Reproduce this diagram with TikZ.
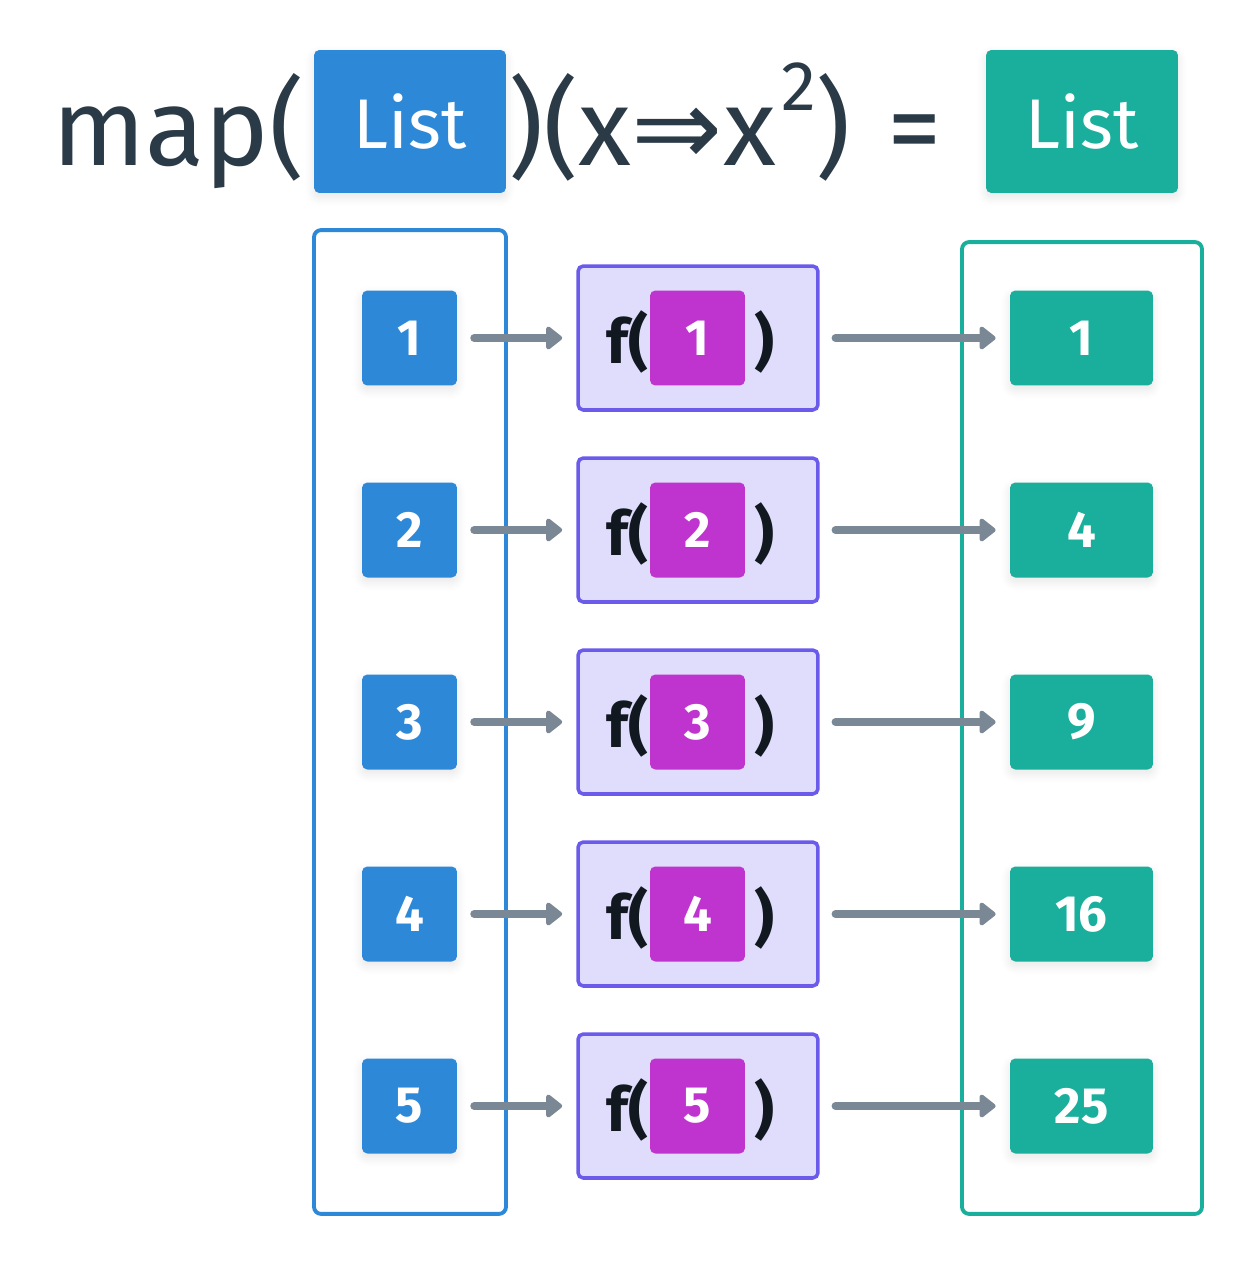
\documentclass[tikz,border=0pt]{standalone}
\usepackage{fontspec}
\setmainfont{Fira Sans}
\newfontfamily\arrowfont{DejaVu Sans}
\usetikzlibrary{positioning}
\usetikzlibrary{arrows.meta}
\usetikzlibrary{shadows.blur}

\definecolor{listblue}{HTML}{2E88D8}
\definecolor{listteal}{HTML}{1AAF9C}
\definecolor{argmagenta}{HTML}{BF34CF}
\definecolor{calllilac}{HTML}{E0DCFC}
\definecolor{callborder}{HTML}{6A5BEA}
\definecolor{linkgray}{HTML}{7A8794}
\definecolor{titleink}{HTML}{2B3A47}
\definecolor{callink}{HTML}{111820}

\begin{document}
\begin{tikzpicture}
	[x=0.02cm,y=-0.02cm,
	softshadow/.style={blur shadow={shadow blur steps=10,shadow blur radius=5pt,shadow xshift=0pt,shadow yshift=-2.5pt,shadow opacity=10}},
	title/.style={inner sep=0pt,text=titleink,font=\fontsize{62}{62}\selectfont},
	listhead/.style={rounded corners=3pt,minimum width=3.84cm,minimum height=2.86cm,text=white,font=\fontsize{40}{40}\selectfont,softshadow},
	column/.style={draw,line width=2.2pt,rounded corners=4pt},
	innum/.style={fill=listblue,rounded corners=3pt,minimum size=1.9cm,text=white,font=\fontsize{29}{29}\selectfont\bfseries,softshadow},
	outnum/.style={fill=listteal,rounded corners=3pt,minimum width=2.86cm,minimum height=1.9cm,text=white,font=\fontsize{29}{29}\selectfont\bfseries,softshadow},
	call/.style={draw=callborder,fill=calllilac,line width=2pt,rounded corners=3pt,minimum width=4.8cm,minimum height=2.88cm},
	arg/.style={fill=argmagenta,rounded corners=3pt,minimum size=1.9cm,text=white,font=\fontsize{29}{29}\selectfont\bfseries},
	paren/.style={inner sep=0pt,text=callink,font=\fontsize{35}{35}\selectfont\bfseries},
	link/.style={draw=linkgray,line width=4.5pt,line cap=round,-{Triangle[length=10pt,width=15pt,round]},shorten >=8pt}]

	\useasboundingbox (0,0) rectangle (1256,1262);

	% Draw the title line
	\draw node at (52,165) [title,anchor=base west](mapword){map(}
		node at (410,121.5) [listhead,fill=listblue](inhead){List}
		node at (508,165) [title,anchor=base west](lambda){)(x{\arrowfont ⇒}x\kern3pt\raisebox{31pt}{\fontsize{40}{40}\selectfont 2})}
		node at (915,165) [title,anchor=base](equals){=}
		node at (1082,121.5) [listhead,fill=listteal](outhead){List};

	% Draw the two list outlines
	\draw node at (410,722) [column,draw=listblue,minimum width=3.84cm,minimum height=19.68cm](incol){}
		node at (1082,728) [column,draw=listteal,minimum width=4.8cm,minimum height=19.44cm](outcol){};

	% Draw the rows: element, call of f, result
	\foreach \v/\w [count=\r] in {1/1,2/4,3/9,4/16,5/25}
	{
		\pgfmathsetmacro{\y}{338+(\r-1)*192}
		\draw node at (409.5,\y) [innum](in\r){\v}
			node at (698,\y) [call](f\r){}
			node at (697.5,\y) [arg](a\r){\v}
			node at (1081.5,\y) [outnum](out\r){\w};
		\draw node [paren,anchor=east] at ($(a\r.west)+(-1,4)$) {f(}
			node [paren,anchor=west] at ($(a\r.east)+(9,4)$) {)};
		\draw[link,shorten <=9.6pt] (in\r) -- (f\r);
		\draw[link,shorten <=9pt] (f\r) -- (out\r);
	}
\end{tikzpicture}
\end{document}
